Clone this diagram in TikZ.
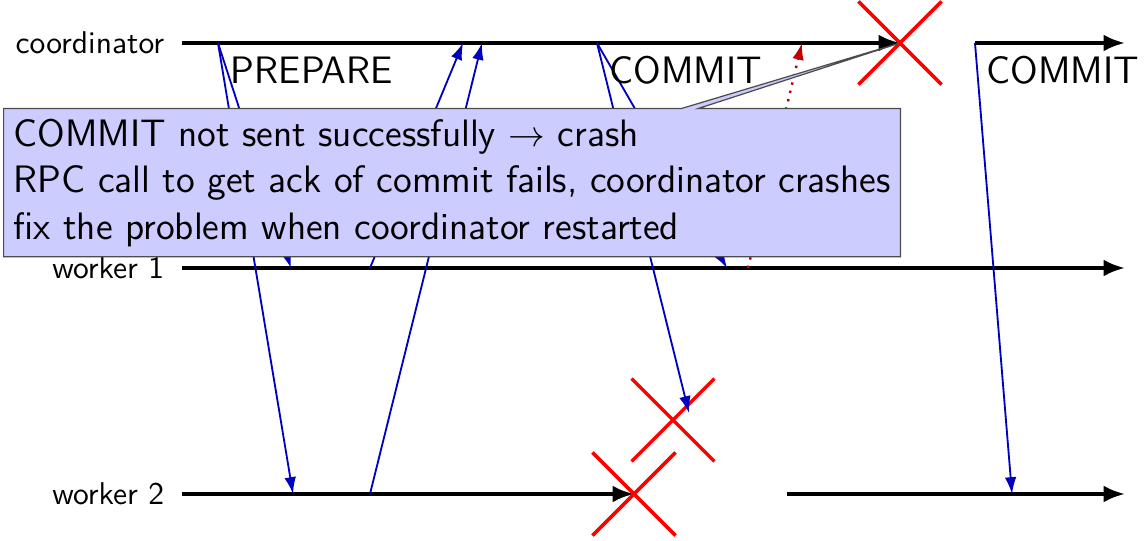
\documentclass[tikz,border=0pt]{standalone}
\usetikzlibrary{arrows.meta,shapes.misc,shapes.callouts}
\definecolor{msgcol}{HTML}{0000BF}
\definecolor{ackcol}{HTML}{C00000}
\definecolor{notecol}{HTML}{CCCCFF}

\begin{document}
\begin{tikzpicture}[x=0.1149cm, y=0.1149cm, font=\sffamily,
  tl/.style={line width=1.2pt, -{Latex[length=7pt,width=5.5pt]}},
  msg/.style={semithick, msgcol, -{Latex[length=5.5pt,width=3.8pt]}},
  ack/.style={thick, dotted, ackcol, -{Latex[length=5.5pt,width=3.8pt]}},
  crash/.style={cross out, draw=red, line width=1.1pt, minimum size=26pt, inner sep=0pt},
  lbl/.style={anchor=east, font=\sffamily\fontsize{10.3}{12.4}\selectfont},
  phase/.style={font=\sffamily\fontsize{12.5}{15}\selectfont},
  note/.style={rectangle callout, fill=notecol, draw=black!70, align=left,
    callout pointer width=5.5pt, font=\sffamily\fontsize{12.5}{15.2}\selectfont}]
  \useasboundingbox (0,0) rectangle (114.4,54.1);
  \def\cy{49.8}\def\wa{27.3}\def\wb{4.7}

  % process labels
  \node[lbl] (coord) at (17.5,\cy) {coordinator};
  \node[lbl] (wone) at (17.5,\wa) {worker 1};
  \node[lbl] (wtwo) at (17.5,\wb) {worker 2};

  % events on the timelines
  \foreach \n/\y in {c/\cy, a/\wa, b/\wb} {
    \coordinate (\n0) at (18.2,\y);
    \coordinate (\n e) at (112.5,\y);
  }
  \coordinate (cp) at (21.8,\cy);  \coordinate (cv1) at (46.3,\cy);
  \coordinate (cv2) at (48.2,\cy); \coordinate (cc) at (59.7,\cy);
  \coordinate (ca) at (80.2,\cy);  \coordinate (cr) at (97.5,\cy);
  \coordinate (ap) at (29.1,\wa);  \coordinate (av) at (37.0,\wa);
  \coordinate (ac) at (72.7,\wa);  \coordinate (aa) at (74.8,\wa);
  \coordinate (bp) at (29.3,\wb);  \coordinate (bv) at (37.0,\wb);
  \coordinate (br) at (78.7,\wb);  \coordinate (bc) at (101.2,\wb);
  \coordinate (lost) at (68.9,12.8);

  % timelines (coordinator and worker 2 stop at their crash)
  \node[crash] (xc) at (90,\cy) {};
  \node[crash] (xw) at (63.4,\wb) {};
  \draw[tl] (c0) -- (xc.center);
  \draw[tl] (cr) -- (ce);
  \draw[tl] (a0) -- (ae);
  \draw[tl] (b0) -- (xw.center);
  \draw[tl] (br) -- (be);
  \node[crash] at (xc) {};
  \node[crash] at (xw) {};
  \node[crash] (xm) at (67.3,12.1) {};

  % messages
  \draw[msg] (cp) -- (ap);
  \draw[msg] (cp) -- (bp);
  \draw[msg] (av) -- (cv1);
  \draw[msg] (bv) -- (cv2);
  \draw[msg] (cc) -- (ac);
  \draw[msg] (cc) -- (lost);
  \draw[ack] (aa) -- (ca);
  \draw[msg] (cr) -- (bc);

  \node[phase] (prep) at (31.2,47.1) {PREPARE};
  \node[phase] (comone) at (68.6,47.1) {COMMIT};
  \node[phase] (comtwo) at (106.3,47.1) {COMMIT};

  % what went wrong
  \node[note, anchor=north west, callout absolute pointer={(xc.center)}] (fail) at (0.3,43.3)
    {COMMIT not sent successfully $\rightarrow$ crash\\
     RPC call to get ack of commit fails, coordinator crashes\\
     fix the problem when coordinator restarted};
\end{tikzpicture}
\end{document}
